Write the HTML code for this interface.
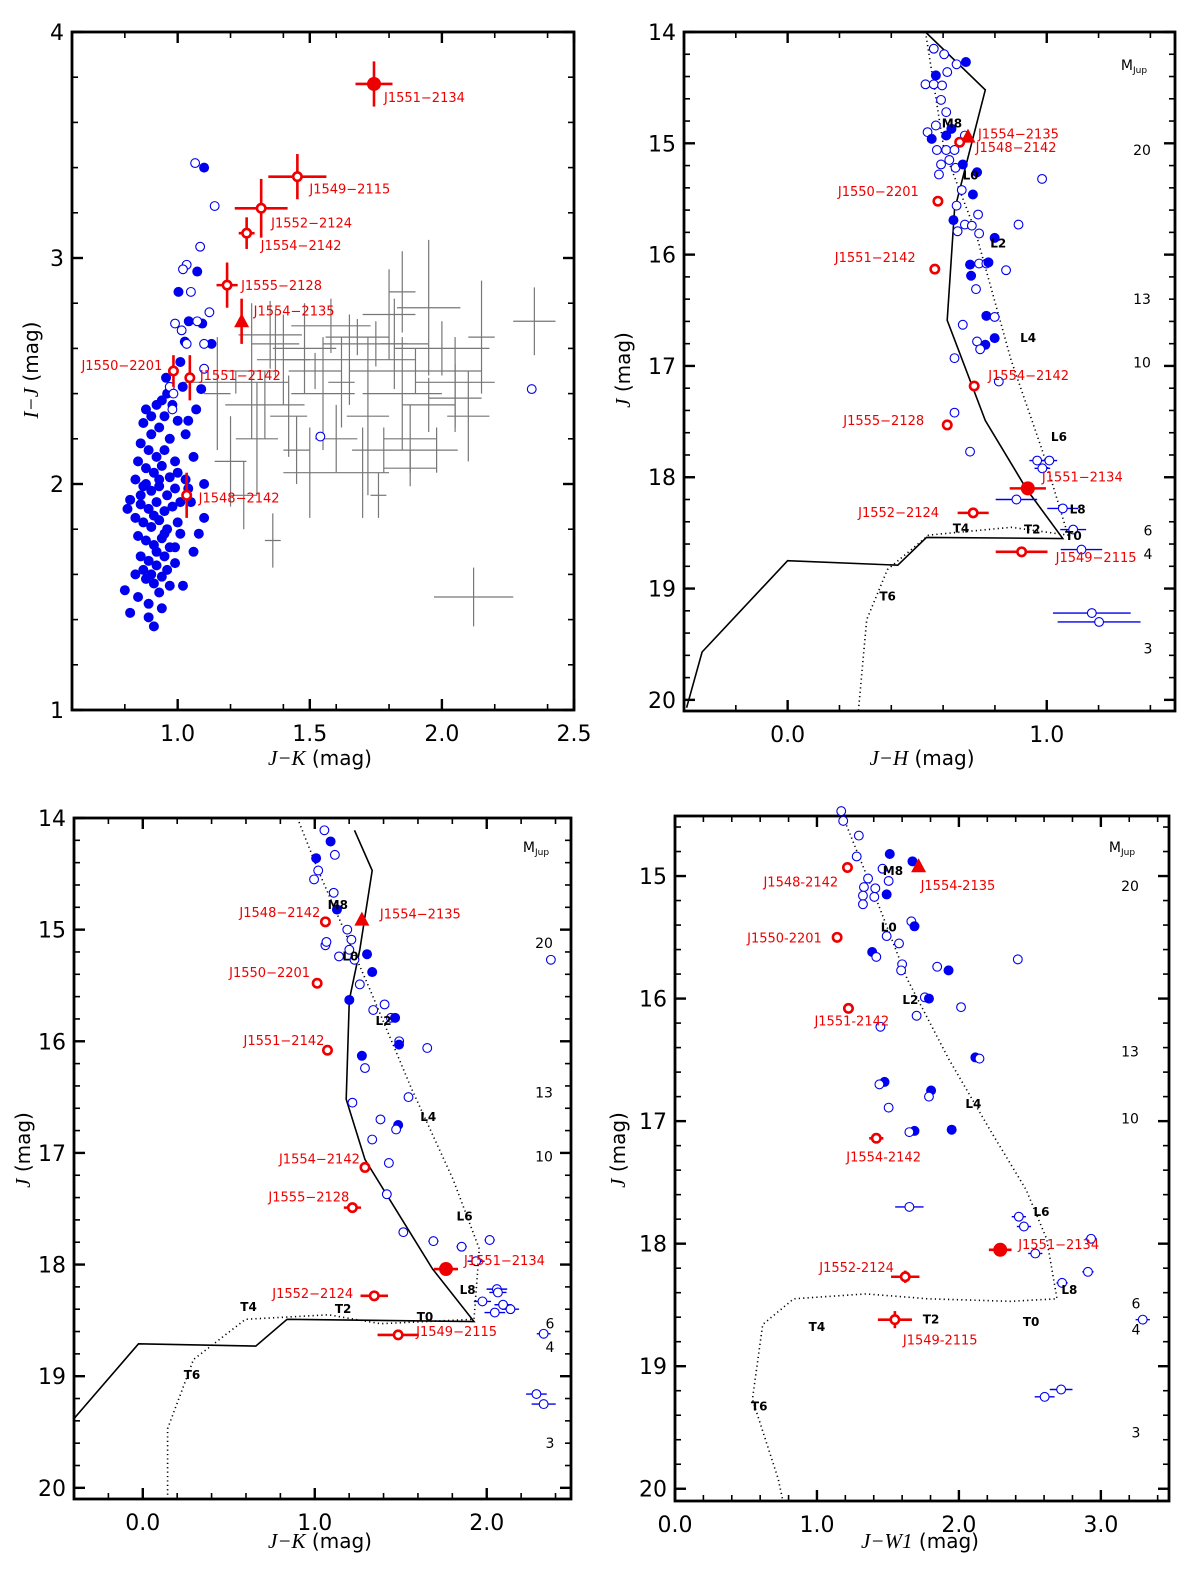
<!DOCTYPE html>
<html><head><meta charset="utf-8">
<style>
html,body{margin:0;padding:0;background:#fff;}
svg{display:block;font-family:"DejaVu Sans","Liberation Sans",sans-serif;}
</style></head>
<body>
<svg id="fig" xmlns="http://www.w3.org/2000/svg" width="1200" height="1578" viewBox="0 0 1200 1578"></svg>
<script>
// ---------- Panel 1 data (J-K vs I-J) ----------
const p1BlueFilled = [[1.10,3.40],[1.074,2.94],[1.003,2.85],[1.042,2.72],[1.093,2.71],[1.027,2.63],[1.128,2.62],[1.01,2.54],[0.956,2.47],[1.019,2.43],[1.089,2.42],[1.07,2.33],
[0.88,2.33],[0.92,2.35],[0.95,2.30],[0.87,2.27],[0.90,2.22],[0.93,2.25],[0.97,2.20],[0.86,2.18],[0.89,2.15],[0.92,2.12],[0.95,2.15],[0.99,2.10],[0.85,2.10],[0.88,2.07],[0.91,2.05],[0.94,2.08],[0.97,2.03],[1.00,2.05],[0.84,2.02],[0.87,1.99],[0.90,1.97],[0.93,1.99],[0.96,1.95],[0.99,1.98],[1.03,2.02],[0.82,1.93],[0.86,1.91],[0.89,1.89],[0.92,1.92],[0.95,1.88],[0.98,1.90],[0.84,1.85],[0.87,1.83],[0.90,1.81],[0.93,1.84],[0.96,1.80],[1.00,1.83],[0.81,1.89],[0.85,1.77],[0.88,1.75],[0.91,1.73],[0.94,1.76],[0.97,1.72],[1.01,1.78],[0.86,1.68],[0.89,1.66],[0.92,1.64],[0.95,1.68],[0.99,1.65],[0.84,1.60],[0.88,1.58],[0.91,1.56],[0.94,1.59],[0.97,1.55],[1.02,1.55],[0.80,1.53],[0.85,1.50],[0.89,1.47],[0.93,1.52],[0.82,1.43],[0.89,1.41],[0.91,1.37],[1.05,1.92],[1.10,1.85],[1.08,1.78],[1.06,1.70],[1.10,2.00],[1.04,2.28],[0.96,2.40],[0.94,2.37],[1.00,2.28],[1.03,2.22],[1.06,2.12],[0.88,2.00],[0.92,1.70],[0.87,1.62],[0.96,1.62],[0.99,1.72],[1.01,1.92],[1.04,1.98],[0.90,2.30],[0.93,2.02],[0.86,1.95],[0.91,1.86],[0.95,1.78],[0.90,1.60],[0.94,1.45],[0.98,2.35]];
const p1BlueOpen = [[1.066,3.42],[1.14,3.23],[1.085,3.05],[1.034,2.97],[1.05,2.85],[1.12,2.76],[0.99,2.71],[1.015,2.68],[1.074,2.72],[1.034,2.62],[1.10,2.62],[1.10,2.51],[0.97,2.43],[0.984,2.40],[0.98,2.33],[2.34,2.42],[1.54,2.21],[1.02,2.95]];
const p1Gray = [[1.22,2.45,0.20,0.05],[1.35,2.66,0.12,0.15],[1.40,2.55,0.10,0.20],[1.55,2.40,0.12,0.25],[1.60,2.20,0.08,0.15],[1.75,2.62,0.20,0.10],[1.80,2.75,0.10,0.20],[1.85,2.40,0.15,0.25],[1.95,2.78,0.12,0.30],[2.00,2.60,0.18,0.12],[2.05,2.38,0.10,0.15],[1.65,2.55,0.25,0.20],[1.50,2.05,0.10,0.20],[1.30,2.20,0.08,0.25],[1.20,2.10,0.06,0.20],[1.25,1.95,0.05,0.15],[1.36,1.75,0.03,0.12],[1.42,2.30,0.07,0.18],[1.70,2.05,0.10,0.20],[1.78,2.15,0.12,0.10],[1.88,2.20,0.10,0.15],[2.10,2.30,0.08,0.20],[1.58,2.70,0.15,0.12],[1.48,2.60,0.12,0.20],[1.90,2.50,0.25,0.10],[1.72,2.30,0.08,0.35],[1.62,2.45,0.05,0.20],[1.82,2.62,0.05,0.20],[2.15,2.65,0.05,0.25],[1.15,2.40,0.05,0.25],[1.28,2.50,0.10,0.30],[1.45,2.15,0.05,0.15],[1.95,2.35,0.10,0.12],[2.12,1.50,0.15,0.13],[2.35,2.72,0.08,0.15],[1.37,2.62,0.09,0.15],[1.68,2.65,0.12,0.08],[1.76,1.95,0.03,0.10],[1.52,2.50,0.10,0.08],[1.33,2.35,0.15,0.15],[2.05,2.45,0.15,0.20],[1.98,2.15,0.08,0.10],[1.85,2.85,0.05,0.18],[1.88,2.07,0.10,0.08]];
const p1RedNames = ["J1551\u22122134","J1549\u22122115","J1552\u22122124","J1554\u22122142","J1555\u22122128","J1554\u22122135","J1550\u22122201","J1551\u22122142","J1548\u22122142"];
const p1RedX = [1.743,1.453,1.316,1.261,1.187,1.242,0.984,1.046,1.034];
const p1RedY = [3.77,3.36,3.22,3.11,2.88,2.72,2.50,2.47,1.95];
const p1RedXe = [0.07,0.11,0.10,0.03,0.04,0,0,0,0];
const p1RedYe = [0.10,0.10,0.13,0.07,0.10,0.10,0.07,0.10,0.10];
const p1RedKind = ["big","open","open","open","open","tri","open","open","open"];
const p1LabelDx = [10,12,10,14,14,12,-92,10,12];
const p1LabelDy = [18,17,19,17,5,-6,-1,2,7];

// ---------- Panel 2 data (J-H vs J) ----------
const p2Solid = [[0.532,14.0],[0.763,14.52],[0.644,15.6],[0.616,16.59],[0.763,17.49],[0.923,18.11],[1.062,18.55],[0.536,18.54],[0.425,18.79],[0.0,18.75],[-0.33,19.57],[-0.39,20.07]];
const p2Dotted = [[0.532,14.0],[0.604,15.06],[0.723,15.78],[0.863,16.95],[0.983,17.76],[1.082,18.52],[0.863,18.45],[0.544,18.52],[0.385,18.83],[0.305,19.28],[0.273,20.1]];
const p2Blue = [[0.564,14.15,0],[0.604,14.20,0],[0.688,14.27,1],[0.652,14.29,0],[0.572,14.39,1],[0.616,14.36,0],[0.532,14.47,0],[0.564,14.47,0],[0.596,14.48,0],[0.592,14.61,0],[0.612,14.72,0],[0.572,14.84,0],[0.54,14.90,0],[0.556,14.96,1],[0.612,14.93,1],[0.632,14.87,1],[0.684,14.93,0],[0.576,15.06,0],[0.612,15.06,0],[0.644,15.06,0],[0.592,15.19,0],[0.624,15.15,0],[0.648,15.22,0],[0.584,15.28,0],[0.676,15.19,1],[0.731,15.26,1],[0.672,15.42,0],[0.715,15.46,1],[0.652,15.56,0],[0.735,15.64,0],[0.64,15.69,1],[0.684,15.73,0],[0.711,15.74,0],[0.739,15.81,0],[0.656,15.79,0],[0.891,15.73,0],[0.799,15.85,1],[0.704,16.09,1],[0.708,16.19,1],[0.739,16.08,0],[0.767,16.08,0],[0.775,16.07,1],[0.843,16.14,0],[0.727,16.31,0],[0.767,16.55,1],[0.799,16.56,0],[0.676,16.63,0],[0.799,16.75,1],[0.763,16.81,1],[0.731,16.78,0],[0.743,16.85,0],[0.982,15.32,0],[0.644,16.93,0],[0.644,17.42,0],[0.815,17.14,0],[0.704,17.77,0]];
const p2BlueErr = [[0.963,17.85,0.03],[1.01,17.85,0.03],[0.983,17.92,0.03],[0.883,18.2,0.08],[1.062,18.28,0.06],[1.102,18.47,0.05],[1.134,18.65,0.08],[1.174,19.22,0.15],[1.202,19.30,0.16]];
const p2RedNames = ["J1554\u22122135","J1548\u22122142","J1550\u22122201","J1551\u22122142","J1554\u22122142","J1555\u22122128","J1551\u22122134","J1552\u22122124","J1549\u22122115"];
const p2RedX = [0.696,0.664,0.58,0.568,0.72,0.616,0.927,0.716,0.903];
const p2RedY = [14.94,14.99,15.52,16.13,17.18,17.53,18.10,18.32,18.67];
const p2RedXe = [0,0,0,0,0.01,0.02,0.07,0.06,0.10];
const p2RedKind = ["tri","open","open","open","open","open","big","open","open"];
const p2LabelDx = [10,16,-100,-100,14,-104,14,-115,34];
const p2LabelDy = [2,10,-5,-7,-6,0,-7,4,10];
const p2SpT = ["M8","L0","L2","L4","L6","L8","T0","T2","T4","T6"];
const p2SpX = [0.634,0.706,0.813,0.928,1.047,1.119,1.103,0.944,0.669,0.386];
const p2SpY = [14.82,15.29,15.90,16.75,17.64,18.29,18.53,18.47,18.46,19.07];
const p2Mass = ["20","13","10","6","4","3"];
const p2MassY = [15.06,16.40,16.97,18.48,18.69,19.54];

// ---------- Panel 3 data (J-K vs J) ----------
const p3Solid = [[1.231,14.11],[1.334,14.47],[1.262,15.18],[1.201,15.63],[1.183,16.52],[1.292,17.06],[1.473,17.51],[1.685,18.04],[1.926,18.51],[0.839,18.49],[0.657,18.73],[-0.025,18.71],[-0.4,19.38]];
const p3Dotted = [[0.899,14.0],[1.02,14.47],[1.322,15.54],[1.564,16.43],[1.805,17.24],[1.957,17.86],[1.926,18.49],[1.382,18.53],[1.08,18.45],[0.597,18.49],[0.295,18.85],[0.144,19.47],[0.144,20.1]];
const p3Blue = [[1.056,14.11,0],[1.092,14.21,1],[1.117,14.33,0],[1.02,14.47,0],[1.008,14.36,1],[0.996,14.55,0],[1.11,14.67,0],[1.129,14.82,1],[1.062,15.14,0],[1.189,15.0,0],[1.213,15.09,0],[1.201,15.18,0],[1.231,15.27,0],[1.304,15.22,1],[1.141,15.24,0],[1.068,15.11,0],[1.334,15.38,1],[1.262,15.49,0],[1.201,15.63,1],[1.340,15.72,0],[1.406,15.67,0],[1.443,15.79,0],[1.467,15.79,1],[1.654,16.06,0],[1.491,16.0,0],[1.274,16.13,1],[1.292,16.24,0],[1.49,16.03,1],[1.219,16.55,0],[1.545,16.5,0],[1.485,16.75,1],[1.473,16.79,0],[1.382,16.7,0],[1.334,16.88,0],[1.431,17.09,0],[1.419,17.37,0],[1.515,17.71,0],[2.373,15.27,0]];
const p3BlueErr = [[1.69,17.79,0.03],[1.854,17.84,0.03],[2.017,17.78,0.03],[1.938,17.97,0.05],[2.059,18.22,0.06],[1.975,18.33,0.05],[2.065,18.25,0.05],[2.095,18.36,0.05],[2.047,18.43,0.06],[2.138,18.40,0.05],[2.331,18.62,0.04],[2.289,19.16,0.06],[2.331,19.25,0.07]];
const p3RedNames = ["J1548\u22122142","J1554\u22122135","J1550\u22122201","J1551\u22122142","J1554\u22122142","J1555\u22122128","J1551\u22122134","J1552\u22122124","J1549\u22122115"];
const p3RedX = [1.062,1.274,1.014,1.074,1.292,1.219,1.763,1.346,1.485];
const p3RedY = [14.93,14.91,15.48,16.08,17.13,17.49,18.04,18.28,18.63];
const p3RedXe = [0,0,0,0,0.02,0.05,0.07,0.08,0.12];
const p3RedKind = ["open","tri","open","open","open","open","big","open","open"];
const p3LabelDx = [-86,18,-88,-84,-86,-84,18,-102,18];
const p3LabelDy = [-5,-1,-6,-5,-4,-6,-4,2,1];
const p3SpX = [1.134,1.207,1.40,1.66,1.871,1.889,1.641,1.165,0.615,0.286];
const p3SpY = [14.78,15.24,15.82,16.68,17.57,18.23,18.47,18.40,18.38,18.99];
const p3MassY = [15.12,16.46,17.03,18.53,18.74,19.60];

// ---------- Panel 4 data (J-W1 vs J) ----------
const p4Dotted = [[1.185,14.52],[1.418,15.19],[1.636,15.84],[1.927,16.49],[2.218,17.07],[2.473,17.56],[2.618,17.96],[2.691,18.45],[2.364,18.47],[1.782,18.45],[1.345,18.41],[0.836,18.45],[0.618,18.66],[0.545,19.27],[0.727,19.92],[0.76,20.1]];
const p4Blue = [[1.171,14.47,0],[1.185,14.55,0],[1.295,14.67,0],[1.28,14.84,0],[1.513,14.82,1],[1.462,14.94,0],[1.673,14.88,1],[1.36,15.02,0],[1.331,15.09,0],[1.411,15.1,0],[1.324,15.16,0],[1.404,15.17,0],[1.324,15.23,0],[1.491,15.15,1],[1.505,15.04,0],[1.665,15.37,0],[1.687,15.41,1],[1.491,15.49,0],[1.389,15.62,1],[1.418,15.66,0],[1.578,15.55,0],[1.6,15.72,0],[1.593,15.77,0],[1.847,15.74,0],[1.927,15.77,1],[2.415,15.68,0],[2.015,16.07,0],[1.76,15.99,0],[1.789,16.0,1],[1.702,16.14,0],[1.447,16.23,0],[2.116,16.48,1],[2.145,16.49,0],[1.476,16.68,1],[1.44,16.7,0],[1.505,16.89,0],[1.804,16.75,1],[1.789,16.8,0],[1.949,17.07,1],[1.687,17.08,1],[1.651,17.09,0]];
const p4BlueErr = [[1.651,17.70,0.10],[2.422,17.78,0.05],[2.458,17.86,0.05],[2.538,18.08,0.05],[2.931,17.96,0.04],[2.909,18.23,0.04],[2.727,18.32,0.04],[3.295,18.62,0.05],[2.72,19.19,0.08],[2.604,19.25,0.07]];
const p4RedNames = ["J1548-2142","J1554-2135","J1550-2201","J1551-2142","J1554-2142","J1551\u22122134","J1552-2124","J1549-2115"];
const p4RedX = [1.215,1.716,1.142,1.222,1.418,2.291,1.622,1.549];
const p4RedY = [14.93,14.92,15.50,16.08,17.14,18.05,18.27,18.62];
const p4RedXe = [0,0,0,0,0.05,0.08,0.10,0.12];
const p4RedYe = [0,0,0,0,0,0,0.05,0.07];
const p4RedKind = ["open","tri","open","open","open","big","open","open"];
const p4LabelDx = [-84,2,-90,-34,-30,18,-86,8];
const p4LabelDy = [19,24,5,17,23,-1,-5,25];
const p4SpX = [1.535,1.506,1.658,2.102,2.582,2.778,2.509,1.804,1.000,0.593];
const p4SpY = [14.96,15.42,16.01,16.86,17.74,18.38,18.64,18.62,18.68,19.33];
const p4MassY = [15.08,16.43,16.98,18.49,18.70,19.54];

const NS = "http://www.w3.org/2000/svg";
const svg = document.getElementById("fig");
function el(tag, attrs, parent){
  const e = document.createElementNS(NS, tag);
  for (const k in attrs) e.setAttribute(k, attrs[k]);
  (parent||svg).appendChild(e);
  return e;
}
function axis(box, xd, yd){
  return {
    x: v => box.l + (v - xd[0]) / (xd[1] - xd[0]) * (box.r - box.l),
    y: v => box.t + (v - yd[0]) / (yd[1] - yd[0]) * (box.b - box.t)
  };
}
function frame(g, box, S, xMaj, xMin, yMaj, yMin, xFmt, yFmt, name){
  const clipId = "clip-" + name;
  const cp = el("clipPath", {id: clipId}, g);
  el("rect", {x: box.l, y: box.t, width: box.r - box.l, height: box.b - box.t}, cp);
  const tg = el("g", {stroke: "#000", "stroke-width": 1.6}, g);
  
  
  xMaj.forEach(v => { const X = S.x(v);
    el("line", {x1: X, x2: X, y1: box.b, y2: box.b - 11, "stroke-width": 2.4}, tg);
    el("line", {x1: X, x2: X, y1: box.t, y2: box.t + 11, "stroke-width": 2.4}, tg);
    const t = el("text", {x: X, y: box.b + 31, "text-anchor": "middle", "font-size": 22, stroke: "none", fill: "#000"}, g);
    t.textContent = xFmt(v);
    
    
  });
  xMin.forEach(v => { const X = S.x(v);
    el("line", {x1: X, x2: X, y1: box.b, y2: box.b - 6}, tg);
    el("line", {x1: X, x2: X, y1: box.t, y2: box.t + 6}, tg);
  });
  yMaj.forEach(v => { const Y = S.y(v);
    el("line", {y1: Y, y2: Y, x1: box.l, x2: box.l + 11, "stroke-width": 2.4}, tg);
    el("line", {y1: Y, y2: Y, x1: box.r, x2: box.r - 11, "stroke-width": 2.4}, tg);
    const t = el("text", {x: box.l - 8, y: Y + 8, "text-anchor": "end", "font-size": 22, stroke: "none", fill: "#000"}, g);
    t.textContent = yFmt(v);
    
    
  });
  yMin.forEach(v => { const Y = S.y(v);
    el("line", {y1: Y, y2: Y, x1: box.l, x2: box.l + 6}, tg);
    el("line", {y1: Y, y2: Y, x1: box.r, x2: box.r - 6}, tg);
  });
  const fr = el("rect", {x: box.l, y: box.t, width: box.r - box.l, height: box.b - box.t, fill: "none", stroke: "#000", "stroke-width": 2.8}, g);
  
  
  return clipId;
}
function range(a, b, s){ const r = []; for (let v = a; v <= b + 1e-9; v += s) r.push(Math.round(v * 100) / 100); return r; }
function axisLabels(g, xPos, yPos, xParts, yParts){
  const xt = el("text", {x: xPos[0], y: xPos[1], "text-anchor": "middle", "font-size": 20}, g);
  
  
  xParts.forEach(p => { const s = el("tspan", p[1] ? {"font-family": "Liberation Serif, serif", "font-style": "italic", "font-size": 21} : {}, xt); s.textContent = p[0]; });
  const yt = el("text", {x: 0, y: 0, "text-anchor": "middle", "font-size": 20, transform: "translate(" + yPos[0] + "," + yPos[1] + ") rotate(-90)"}, g);
  
  
  yParts.forEach(p => { const s = el("tspan", p[1] ? {"font-family": "Liberation Serif, serif", "font-style": "italic", "font-size": 21} : {}, yt); s.textContent = p[0]; });
}
function poly(g, S, pts, dotted, clip){
  const d = pts.map((p, i) => (i ? "L" : "M") + S.x(p[0]).toFixed(1) + "," + S.y(p[1]).toFixed(1)).join(" ");
  const a = {d: d, fill: "none", stroke: "#000", "stroke-width": 1.6, "clip-path": "url(#" + clip + ")"};
  if (dotted) a["stroke-dasharray"] = "1.2,3.2";
  const p = el("path", a, g);
  
  
}
function blue(g, S, x, y, filled, xe, clip){
  const X = S.x(x), Y = S.y(y);
  if (xe) {
    const l = el("line", {x1: S.x(x - xe), x2: S.x(x + xe), y1: Y, y2: Y, stroke: "#0000ee", "stroke-width": 1.4, "clip-path": "url(#" + clip + ")"}, g);
    
    
  }
  const c = el("circle", filled ? {cx: X, cy: Y, r: 5, fill: "#0000ee"} : {cx: X, cy: Y, r: 4.4, fill: "#fff", stroke: "#0000ee", "stroke-width": 1.1}, g);
  
  
}
function red(g, S, name, x, y, xe, ye, kind, dx, dy, fs){
  const X = S.x(x), Y = S.y(y);
  const rg = el("g", {}, g);
  
  
  if (xe) el("line", {x1: S.x(x - xe), x2: S.x(x + xe), y1: Y, y2: Y, stroke: "#ee0000", "stroke-width": 2.6}, rg);
  if (ye) el("line", {x1: X, x2: X, y1: S.y(y - ye), y2: S.y(y + ye), stroke: "#ee0000", "stroke-width": 2.6}, rg);
  if (kind === "big") el("circle", {cx: X, cy: Y, r: 7, fill: "#ee0000"}, rg);
  else if (kind === "tri") el("polygon", {points: (X) + "," + (Y - 8) + " " + (X - 7.5) + "," + (Y + 6) + " " + (X + 7.5) + "," + (Y + 6), fill: "#ee0000"}, rg);
  else el("circle", {cx: X, cy: Y, r: 4.2, fill: "#fff", stroke: "#ee0000", "stroke-width": 2.6}, rg);
  const t = el("text", {x: X + dx, y: Y + dy, "font-size": fs || 13, fill: "#ee0000"}, rg);
  t.textContent = name;
}
function spLabels(g, S, xs, ys){
  xs.forEach((x, i) => {
    const t = el("text", {x: S.x(x), y: S.y(ys[i]) + 4, "text-anchor": "middle", "font-size": 12, "font-weight": "bold", fill: "#000"}, g);
    t.textContent = p2SpT[i];
    
    
  });
}
function massLabels(g, S, mx, my, ys){
  const m = el("text", {x: mx, y: my, "text-anchor": "middle", "font-size": 14}, g);
  
  
  const a = el("tspan", {}, m); a.textContent = "M";
  const b = el("tspan", {"font-size": 9, dy: 3}, m); b.textContent = "Jup";
  ys.forEach((v, i) => {
    const t = el("text", {x: mx + 8 + (i >= 3 ? 6 : 0), y: S.y(v) + 5, "text-anchor": "middle", "font-size": 14}, g);
    t.textContent = p2Mass[i];
    
    
  });
}
const fmt1 = v => v.toFixed(1);
const fmt0 = v => String(Math.round(v));

// ---------- Panel 1 ----------
(function(){
  const box = {l: 72, t: 32, r: 574, b: 710};
  const S = axis(box, [0.6, 2.5], [4, 1]);
  const g = el("g", {});
  
  
  const clip = "clip-p1";
  const cp = el("clipPath", {id: clip}, g);
  el("rect", {x: box.l, y: box.t, width: box.r - box.l, height: box.b - box.t}, cp);
  p1Gray.forEach(c => {
    const gl = el("g", {stroke: "#777", "stroke-width": 1.2, "clip-path": "url(#" + clip + ")"}, g);
    
    
    el("line", {x1: S.x(c[0] - c[2]), x2: S.x(c[0] + c[2]), y1: S.y(c[1]), y2: S.y(c[1])}, gl);
    el("line", {x1: S.x(c[0]), x2: S.x(c[0]), y1: S.y(c[1] - c[3]), y2: S.y(c[1] + c[3])}, gl);
  });
  p1BlueFilled.forEach(p => blue(g, S, p[0], p[1], 1, 0, clip));
  p1BlueOpen.forEach(p => blue(g, S, p[0], p[1], 0, 0, clip));
  p1RedNames.forEach((n, i) => red(g, S, n, p1RedX[i], p1RedY[i], p1RedXe[i], p1RedYe[i], p1RedKind[i], p1LabelDx[i], p1LabelDy[i]));
  frame(g, box, S, [1.0, 1.5, 2.0, 2.5], [0.8, 1.2, 1.4, 1.6, 1.8, 2.2, 2.4], [1, 2, 3, 4], range(1.2, 3.8, 0.2).filter(v => Math.abs(v - Math.round(v)) > 0.01), fmt1, fmt0, "p1");
  axisLabels(g, [320, 765], [38, 370], [["J\u2212K", 1], [" (mag)", 0]], [["I\u2212J", 1], [" (mag)", 0]]);
})();

// ---------- Panel 2 ----------
(function(){
  const box = {l: 684, t: 32, r: 1175, b: 711};
  const S = axis(box, [-0.4, 1.495], [14, 20.1]);
  const g = el("g", {});
  
  
  const clip = frame(g, box, S, [0, 1], range(-0.2, 1.4, 0.2).filter(v => Math.abs(v) > 0.01 && Math.abs(v - 1) > 0.01), range(14, 20, 1), range(14.2, 19.8, 0.2).filter(v => Math.abs(v - Math.round(v)) > 0.01), fmt1, fmt0, "p2");
  poly(g, S, p2Solid, false, clip);
  poly(g, S, p2Dotted, true, clip);
  p2Blue.forEach(p => blue(g, S, p[0], p[1], p[2], 0, clip));
  p2BlueErr.forEach(p => blue(g, S, p[0], p[1], 0, p[2], clip));
  spLabels(g, S, p2SpX, p2SpY);
  p2RedNames.forEach((n, i) => red(g, S, n, p2RedX[i], p2RedY[i], p2RedXe[i], 0, p2RedKind[i], p2LabelDx[i], p2LabelDy[i]));
  massLabels(g, S, 1134, 70, p2MassY);
  axisLabels(g, [922, 765], [630, 370], [["J\u2212H", 1], [" (mag)", 0]], [["J", 1], [" (mag)", 0]]);
})();

// ---------- Panel 3 ----------
(function(){
  const box = {l: 74, t: 818, r: 571, b: 1499};
  const S = axis(box, [-0.4, 2.49], [14, 20.1]);
  const g = el("g", {});
  
  
  const clip = frame(g, box, S, [0, 1, 2], range(-0.2, 2.4, 0.2).filter(v => Math.abs(v - Math.round(v)) > 0.01), range(14, 20, 1), range(14.2, 19.8, 0.2).filter(v => Math.abs(v - Math.round(v)) > 0.01), fmt1, fmt0, "p3");
  poly(g, S, p3Solid, false, clip);
  poly(g, S, p3Dotted, true, clip);
  p3Blue.forEach(p => blue(g, S, p[0], p[1], p[2], 0, clip));
  p3BlueErr.forEach(p => blue(g, S, p[0], p[1], 0, p[2], clip));
  spLabels(g, S, p3SpX, p3SpY);
  p3RedNames.forEach((n, i) => red(g, S, n, p3RedX[i], p3RedY[i], p3RedXe[i], 0, p3RedKind[i], p3LabelDx[i], p3LabelDy[i]));
  massLabels(g, S, 536, 852, p3MassY);
  axisLabels(g, [320, 1548], [30, 1150], [["J\u2212K", 1], [" (mag)", 0]], [["J", 1], [" (mag)", 0]]);
})();

// ---------- Panel 4 ----------
(function(){
  const box = {l: 675, t: 816, r: 1169, b: 1501};
  const S = axis(box, [0, 3.48], [14.51, 20.1]);
  const g = el("g", {});
  
  
  const clip = frame(g, box, S, [0, 1, 2, 3], range(0.2, 3.4, 0.2).filter(v => Math.abs(v - Math.round(v)) > 0.01), range(15, 20, 1), range(14.6, 19.8, 0.2).filter(v => Math.abs(v - Math.round(v)) > 0.01), fmt1, fmt0, "p4");
  poly(g, S, p4Dotted, true, clip);
  p4Blue.forEach(p => blue(g, S, p[0], p[1], p[2], 0, clip));
  p4BlueErr.forEach(p => blue(g, S, p[0], p[1], 0, p[2], clip));
  spLabels(g, S, p4SpX, p4SpY);
  p4RedNames.forEach((n, i) => red(g, S, n, p4RedX[i], p4RedY[i], p4RedXe[i], p4RedYe[i], p4RedKind[i], p4LabelDx[i], p4LabelDy[i]));
  massLabels(g, S, 1122, 852, p4MassY);
  axisLabels(g, [920, 1548], [625, 1150], [["J\u2212W1", 1], [" (mag)", 0]], [["J", 1], [" (mag)", 0]]);
})();
</script>
</body></html>
